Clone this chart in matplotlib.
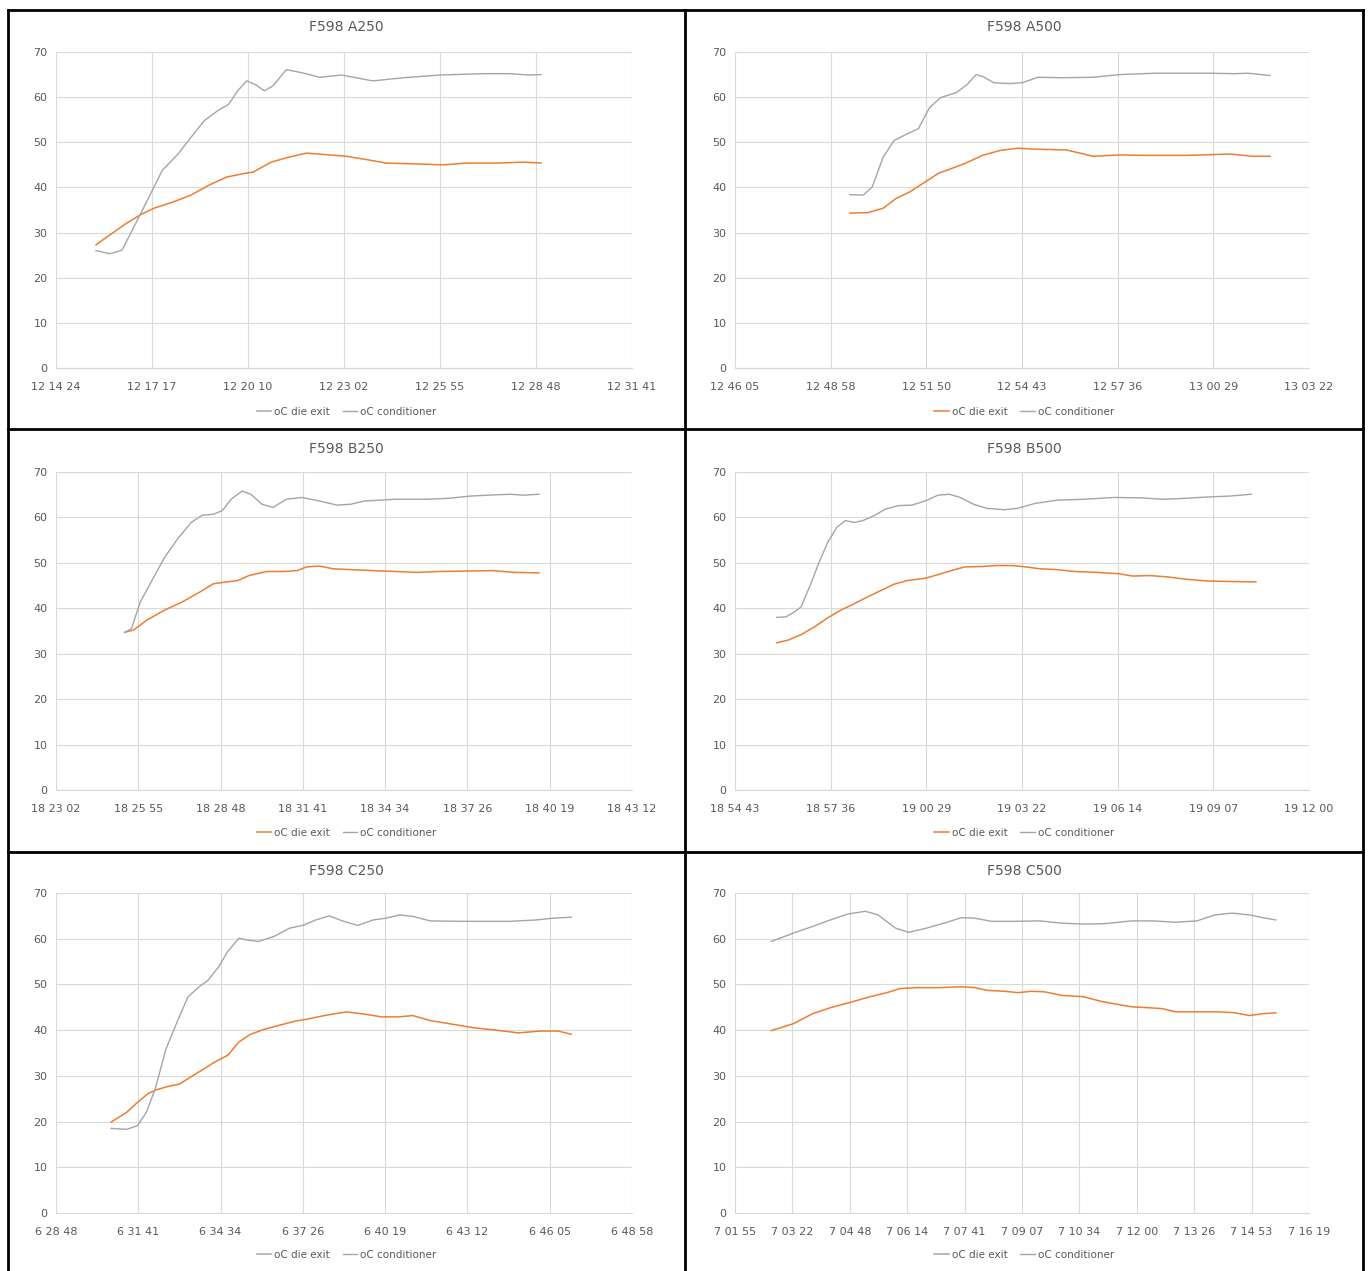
import matplotlib
matplotlib.use("Agg")
import matplotlib.pyplot as plt
from matplotlib.lines import Line2D
import numpy as np

plt.rcParams['font.family'] = ['Liberation Sans Narrow', 'DejaVu Sans']

W, H = 1369, 1271
TEXT = '#595959'
GRID = '#D9D9D9'
ORANGE = '#ED7D31'
GRAY = '#A5A5A5'

# time in minutes after the first axis tick, temperature in oC
a250_cond_t = [1.20, 1.62, 1.98, 2.25, 2.52, 2.94, 3.19, 3.66, 4.05, 4.45, 4.85, 5.18, 5.45, 5.72,
               5.98, 6.25, 6.51, 6.91, 7.38, 7.91, 8.57, 9.50, 10.43, 11.50, 12.83, 13.62, 14.16, 14.55]
a250_cond = [26.0, 25.3, 26.1, 30.0, 33.9, 40.1, 43.8, 47.4, 51.1, 54.8, 57.0, 58.4, 61.4, 63.6,
             62.8, 61.4, 62.5, 66.1, 65.4, 64.4, 64.9, 63.6, 64.3, 64.9, 65.2, 65.2, 64.9, 65.0]
a250_die_t = [1.20, 1.60, 2.06, 2.52, 2.94, 3.52, 4.05, 4.59, 5.12, 5.65, 5.92, 6.45, 6.98, 7.51,
              8.04, 8.71, 9.37, 9.90, 10.83, 11.63, 12.30, 13.23, 14.02, 14.55]
a250_die = [27.3, 29.4, 31.8, 33.9, 35.4, 36.8, 38.3, 40.5, 42.3, 43.1, 43.4, 45.6, 46.7, 47.6,
            47.3, 46.9, 46.1, 45.4, 45.2, 45.0, 45.4, 45.4, 45.6, 45.4]

a500_cond_t = [3.46, 3.86, 4.13, 4.46, 4.79, 5.19, 5.52, 5.86, 6.19, 6.66, 6.99, 7.26, 7.45, 7.79,
               8.25, 8.65, 9.12, 9.85, 10.78, 11.58, 12.65, 14.24, 15.04, 15.44, 16.11]
a500_cond = [38.4, 38.3, 40.1, 46.7, 50.4, 51.9, 53.0, 57.7, 59.9, 61.0, 62.8, 65.0, 64.6, 63.2,
             63.0, 63.2, 64.4, 64.3, 64.4, 65.0, 65.3, 65.3, 65.2, 65.3, 64.8]
a500_die_t = [3.46, 3.99, 4.46, 4.86, 5.26, 5.66, 6.12, 6.52, 6.92, 7.45, 7.99, 8.52, 8.92, 9.45,
              9.98, 10.38, 10.78, 11.58, 12.38, 13.58, 14.91, 15.58, 16.11]
a500_die = [34.3, 34.4, 35.4, 37.6, 39.0, 40.9, 43.1, 44.2, 45.3, 47.1, 48.2, 48.7, 48.5, 48.4,
            48.3, 47.6, 46.9, 47.2, 47.1, 47.1, 47.4, 46.9, 46.9]

b250_cond_t = [2.40, 2.64, 2.95, 3.33, 3.80, 4.26, 4.73, 5.12, 5.51, 5.82, 6.13, 6.51, 6.82, 7.21,
               7.60, 8.06, 8.61, 9.23, 9.85, 10.31, 10.78, 11.86, 12.95, 13.72, 14.50, 15.12, 15.90,
               16.36, 16.90]
b250_cond = [34.7, 35.5, 41.4, 45.8, 51.2, 55.3, 58.9, 60.5, 60.7, 61.5, 64.0, 65.8, 65.1, 62.9,
             62.2, 64.0, 64.4, 63.6, 62.7, 62.9, 63.6, 64.0, 64.0, 64.2, 64.7, 64.9, 65.1, 64.9, 65.1]
b250_die_t = [2.40, 2.71, 3.18, 3.80, 4.42, 5.04, 5.51, 5.97, 6.36, 6.75, 7.37, 7.99, 8.45, 8.76,
              9.23, 9.69, 10.31, 11.09, 11.86, 12.64, 13.41, 14.34, 15.28, 16.05, 16.90]
b250_die = [34.7, 35.2, 37.4, 39.6, 41.4, 43.6, 45.4, 45.8, 46.1, 47.2, 48.1, 48.1, 48.3, 49.1,
            49.3, 48.7, 48.5, 48.3, 48.1, 47.9, 48.1, 48.2, 48.3, 47.9, 47.8]

b500_cond_t = [1.26, 1.53, 1.79, 1.99, 2.26, 2.53, 2.79, 3.06, 3.32, 3.59, 3.85, 4.19, 4.52, 4.92,
               5.32, 5.72, 6.11, 6.45, 6.78, 7.18, 7.58, 8.11, 8.51, 9.04, 9.70, 10.50, 11.43,
               12.23, 12.89, 13.56, 14.22, 14.89, 15.55]
b500_cond = [38.0, 38.1, 39.2, 40.3, 45.0, 50.1, 54.5, 57.8, 59.3, 58.9, 59.3, 60.4, 61.8, 62.6,
             62.7, 63.6, 64.9, 65.1, 64.4, 62.9, 62.0, 61.7, 62.0, 63.1, 63.8, 64.0, 64.4, 64.3,
             64.0, 64.2, 64.5, 64.7, 65.1]
b500_die_t = [1.26, 1.60, 1.99, 2.39, 2.79, 3.19, 3.59, 3.99, 4.39, 4.79, 5.18, 5.72, 6.11, 6.51,
              6.91, 7.44, 7.84, 8.37, 8.77, 9.17, 9.70, 10.23, 10.90, 11.56, 11.96, 12.49, 13.03,
              13.56, 14.22, 14.89, 15.68]
b500_die = [32.4, 33.0, 34.2, 35.9, 37.9, 39.6, 41.0, 42.5, 43.9, 45.3, 46.1, 46.6, 47.4, 48.3,
            49.1, 49.2, 49.4, 49.4, 49.1, 48.7, 48.5, 48.1, 47.9, 47.6, 47.1, 47.2, 46.9, 46.4,
            46.0, 45.9, 45.8]

c250_cond_t = [1.93, 2.47, 2.85, 3.16, 3.47, 3.85, 4.24, 4.62, 5.01, 5.32, 5.70, 6.01, 6.40, 6.70,
               7.09, 7.63, 8.17, 8.63, 9.09, 9.56, 10.02, 10.56, 11.10, 11.56, 12.02, 12.48, 13.10,
               14.18, 14.95, 15.88, 16.80, 17.42, 18.03]
c250_cond = [18.5, 18.3, 19.1, 22.0, 27.1, 35.9, 41.8, 47.3, 49.5, 50.9, 53.9, 57.2, 60.1, 59.7,
             59.4, 60.5, 62.3, 62.9, 64.1, 65.0, 63.9, 62.9, 64.1, 64.5, 65.2, 64.9, 63.9, 63.8,
             63.8, 63.8, 64.1, 64.5, 64.7]
c250_die_t = [1.93, 2.47, 2.85, 3.24, 3.54, 3.93, 4.32, 4.70, 5.09, 5.55, 6.01, 6.40, 6.78, 7.24,
              7.78, 8.32, 8.79, 9.40, 10.17, 10.79, 11.41, 12.02, 12.48, 13.10, 13.87, 14.64, 15.41,
              16.18, 16.95, 17.57, 18.03]
c250_die = [19.9, 22.0, 24.2, 26.2, 27.0, 27.7, 28.2, 29.7, 31.2, 33.0, 34.5, 37.4, 39.0, 40.1,
            41.0, 41.9, 42.4, 43.2, 44.0, 43.5, 42.9, 42.9, 43.2, 42.1, 41.3, 40.5, 40.0, 39.4,
            39.8, 39.8, 39.1]

c500_cond_t = [0.91, 1.46, 1.95, 2.39, 2.83, 3.27, 3.59, 4.03, 4.36, 4.80, 5.24, 5.68, 6.01, 6.44,
               6.99, 7.65, 8.20, 8.75, 9.29, 9.95, 10.50, 11.05, 11.59, 12.03, 12.47, 12.91, 13.24,
               13.57]
c500_cond = [59.4, 61.2, 62.7, 64.1, 65.4, 66.0, 65.2, 62.3, 61.4, 62.3, 63.4, 64.6, 64.5, 63.8,
             63.8, 63.9, 63.4, 63.2, 63.3, 63.9, 63.9, 63.6, 63.9, 65.2, 65.6, 65.2, 64.6, 64.1]
c500_die_t = [0.91, 1.46, 1.95, 2.39, 2.94, 3.38, 3.81, 4.14, 4.58, 5.13, 5.68, 6.01, 6.33, 6.77,
              7.10, 7.43, 7.76, 8.20, 8.75, 9.18, 9.62, 9.95, 10.39, 10.72, 11.05, 11.59, 12.14,
              12.53, 12.91, 13.24, 13.57]
c500_die = [39.9, 41.4, 43.6, 44.9, 46.2, 47.3, 48.2, 49.1, 49.3, 49.3, 49.5, 49.3, 48.7, 48.5,
            48.2, 48.5, 48.4, 47.6, 47.3, 46.3, 45.6, 45.1, 44.9, 44.7, 44.0, 44.0, 44.0, 43.8,
            43.2, 43.6, 43.8]

# (title, axis start as day fraction, major unit in days, number of intervals, data)
panels = [
    ("F598 A250", 0.510, 0.002, 6, a250_die_t, a250_die, a250_cond_t, a250_cond, GRAY),
    ("F598 A500", 0.532, 0.002, 6, a500_die_t, a500_die, a500_cond_t, a500_cond, ORANGE),
    ("F598 B250", 0.766, 0.002, 7, b250_die_t, b250_die, b250_cond_t, b250_cond, ORANGE),
    ("F598 B500", 0.788, 0.002, 6, b500_die_t, b500_die, b500_cond_t, b500_cond, ORANGE),
    ("F598 C250", 0.270, 0.002, 7, c250_die_t, c250_die, c250_cond_t, c250_cond, GRAY),
    ("F598 C500", 0.293, 0.001, 10, c500_die_t, c500_die, c500_cond_t, c500_cond, GRAY),
]

# pixel layout
col_x = [(8, 685), (685, 1363)]
plot_x = [(56, 632), (735, 1309)]
row_y = [(10, 429), (429, 852), (852, 1271)]
plot_y = [(52, 368), (472, 790), (893, 1213)]
title_y = [27, 449, 871]
legend_y = [412, 833, 1255]


def fmt_time(x, pos=None):
    s = int(round(x * 86400))
    return f"{s // 3600} {(s % 3600) // 60:02d} {s % 60:02d}"


fig = plt.figure(figsize=(W / 100, H / 100), dpi=100)

for i, (title, start, unit, n, die_t, die, cond_t, cond, leg_col) in enumerate(panels):
    r, c = divmod(i, 2)
    l, rr = plot_x[c]
    t, b = plot_y[r]
    ax = fig.add_axes([l / W, 1 - b / H, (rr - l) / W, (b - t) / H])

    x_die = start + np.array(die_t) / 1440.0
    x_cond = start + np.array(cond_t) / 1440.0
    ax.plot(x_die, die, color=ORANGE, lw=1.1, label="oC die exit", zorder=3)
    ax.plot(x_cond, cond, color=GRAY, lw=1.0, label="oC conditioner", zorder=3)

    ticks = start + unit * np.arange(n + 1)
    ax.set_xlim(ticks[0], ticks[-1])
    ax.set_xticks(ticks)
    ax.set_xticklabels([fmt_time(v) for v in ticks])
    ax.set_ylim(0, 70)
    ax.set_yticks(range(0, 71, 10))

    ax.grid(True, color=GRID, lw=0.8)
    ax.set_axisbelow(True)
    for side in ['top', 'right', 'left']:
        ax.spines[side].set_visible(False)
    ax.spines['bottom'].set_color(GRID)
    ax.tick_params(length=0, labelsize=8, colors=TEXT)
    ax.tick_params(axis='x', pad=10)
    ax.tick_params(axis='y', pad=6)

    cx = (col_x[c][0] + col_x[c][1]) / 2
    fig.text(cx / W, 1 - title_y[r] / H, title, ha='center', va='center',
             fontsize=10, color=TEXT)

    handles = [Line2D([], [], color=leg_col, lw=1.1), Line2D([], [], color=GRAY, lw=1.0)]
    fig.legend(handles, ["oC die exit", "oC conditioner"], loc='center',
               bbox_to_anchor=(cx / W, 1 - legend_y[r] / H), ncol=2, frameon=False,
               fontsize=7.5, labelcolor=TEXT, handlelength=1.4, handletextpad=0.3,
               columnspacing=1.2)

# black cell borders
for x in [8, 685, 1363]:
    fig.add_artist(Line2D([x / W, x / W], [1 - 10 / H, 0], color='black', lw=2))
for y in [10, 429, 852]:
    fig.add_artist(Line2D([8 / W, 1363 / W], [1 - y / H, 1 - y / H], color='black', lw=2))

fig.savefig("out.png", dpi=100)
